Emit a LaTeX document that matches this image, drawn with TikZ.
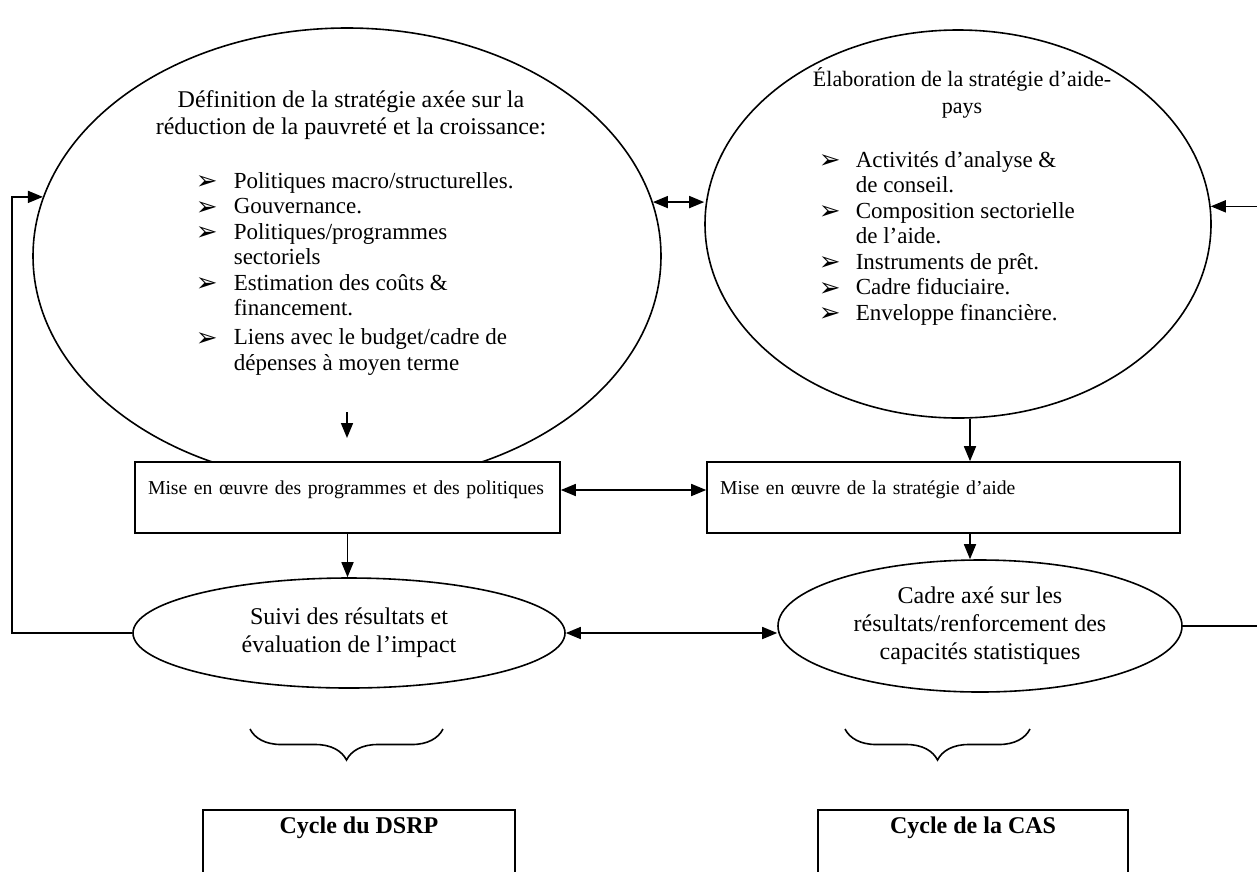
\documentclass[tikz,border=0pt]{standalone}
\usepackage{fontspec}
\setmainfont{Liberation Serif}
\newfontfamily\dejavu{DejaVu Sans}
\usetikzlibrary{arrows.meta,shapes.geometric,decorations.pathreplacing}
\newcommand{\blt}{\raisebox{-1.5pt}{\dejavu\fontsize{26}{25.5}\selectfont ➢}}
\begin{document}
\begin{tikzpicture}[x=1pt,y=-1pt,line width=1.6pt,
 big/.style={font=\fontsize{24}{27}\selectfont, inner sep=0pt},
 lst/.style={font=\fontsize{23}{25.5}\selectfont, inner sep=0pt},
 arr/.style={-{Triangle[length=15pt,width=12pt]}},
 darr/.style={{Triangle[length=15pt,width=12pt]}-{Triangle[length=15pt,width=12pt]}},
 oval/.style={draw, ellipse, inner sep=0pt, align=center, font=\fontsize{24}{28}\selectfont},
 box/.style={draw, fill=white, rectangle, inner xsep=13pt, inner ysep=0pt, align=left, font=\fontsize{19.7}{24}\selectfont, minimum height=71pt, text depth=19.5pt},
 cyc/.style={draw, anchor=north, font=\bfseries\fontsize{24}{28}\selectfont, inner ysep=7pt, text depth=90pt},
 brc/.style={decorate, decoration={brace, amplitude=31pt, mirror}}
]
\clip (0,0) rectangle (1257,871);
\fill[white] (0,0) rectangle (1257,871);
\coordinate (fbL) at (12,0);
\coordinate (fbR) at (1275,0);
\coordinate (ax) at (970,0);
% ellipses
\node[oval, minimum width=628pt, minimum height=456pt] (lE) at (347,256) {};
\node[oval, minimum width=506pt, minimum height=388pt] (rE) at (958,224) {};
% titles
\node[big, anchor=base] (lT1) at (351,107.4) {Définition de la stratégie axée sur la};
\node[big, anchor=base] (lT2) at (351,134.4) {réduction de la pauvreté et la croissance:};
\node[big, anchor=base, font=\fontsize{22}{27}\selectfont] (rT1) at (962,86) {Élaboration de la stratégie d’aide-};
\node[big, anchor=base, font=\fontsize{22}{27}\selectfont] (rT2) at (962,113) {pays};
% lists
\node[lst, anchor=north west] (lL) at (195,169.35) {\begin{tabular}{@{}p{38pt}@{}l@{}}
\blt & Politiques macro/structurelles.\\
\blt & Gouvernance.\\
\blt & Politiques/programmes\\
 & sectoriels\\
\blt & Estimation des coûts \&\\
 & financement.\\[3.5pt]
\blt & Liens avec le budget/cadre de\\
 & dépenses à moyen terme
\end{tabular}};
\node[lst, anchor=north west] (rL) at (818,148.35) {\begin{tabular}{@{}p{37pt}@{}l@{}}
\blt & Activités d’analyse \&\\
 & de conseil.\\
\blt & Composition sectorielle\\
 & de l’aide.\\
\blt & Instruments de prêt.\\
\blt & Cadre fiduciaire.\\
\blt & Enveloppe financière.
\end{tabular}};
\coordinate (la1) at (347,412);
\coordinate (la2) at (347,438);
\draw[arr] (la1) -- (la2);
% boxes
\node[box, minimum width=425pt, text width=399pt] (lB) at (347.5,497.5) {Mise en œuvre des programmes et des politiques};
\node[box, minimum width=473pt, text width=447pt] (rB) at (943.5,497.5) {Mise en œuvre de la stratégie d’aide};
% lower ellipses
\node[oval, minimum width=432pt, minimum height=110pt] (bl) at (349,633) {Suivi des résultats et\\évaluation de l’impact};
\node[oval, minimum width=404pt, minimum height=132pt] (br) at (980,626) {Cadre axé sur les\\résultats/renforcement des\\capacités statistiques};
% cycle boxes
\node[cyc, minimum width=312pt] (cL) at (359,809) {Cycle du DSRP};
\node[cyc, minimum width=310pt] (cR) at (973,809) {Cycle de la CAS};
% braces
\coordinate (bLa) at (250,729);
\coordinate (bLb) at (443,729);
\coordinate (bRa) at (845,729);
\coordinate (bRb) at (1030,729);
\draw[brc] (bLa) -- (bLb);
\draw[brc] (bRa) -- (bRb);
% connectors
\draw[darr] (lE.10) -- (lE.10 -| rE.west);
\draw[darr] ([yshift=7.5pt]lB.east) -- ([yshift=7.5pt]rB.west);
\draw[darr] (bl.east) -- (bl.east -| br.west);
\draw[arr] (lB.south) -- (lB.south |- bl.north);
\draw[arr] (rE.south -| ax) -- (rB.north -| ax);
\draw[arr] (rB.south -| ax) -- (br.north -| ax);
\draw[arr] (bl.west) -- (bl.west -| fbL) -- (lE.169 -| fbL) -- (lE.169);
\draw[arr] (br.east) -- (br.east -| fbR) -- (rE.4 -| fbR) -- (rE.4);
\end{tikzpicture}
\end{document}
